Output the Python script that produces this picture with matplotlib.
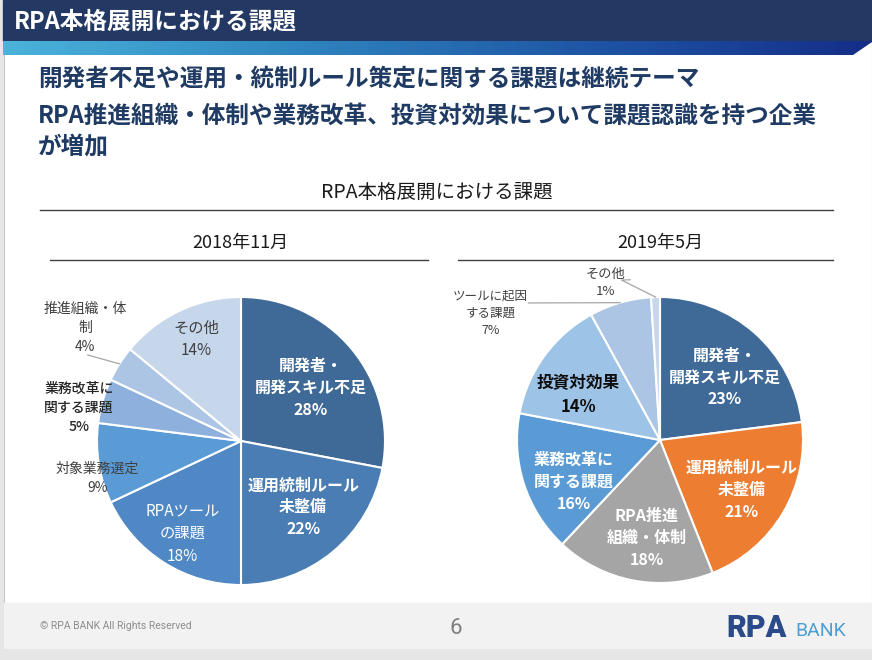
import numpy as np
import matplotlib
matplotlib.use("Agg")
import matplotlib.pyplot as plt
from matplotlib.colors import LinearSegmentedColormap
from matplotlib.patches import Rectangle, Polygon

plt.rcParams['font.family'] = ['Noto Sans CJK JP', 'DejaVu Sans']

W, H = 872, 660

# data
header_title = "RPA本格展開における課題"
messages = ["開発者不足や運用・統制ルール策定に関する課題は継続テーマ",
            "RPA推進組織・体制や業務改革、投資対効果について課題認識を持つ企業",
            "が増加"]
chart_title = "RPA本格展開における課題"
periods = ["2018年11月", "2019年5月"]

names_2018 = ["開発者・\n開発スキル不足", "運用統制ルール\n未整備", "RPAツール\nの課題",
              "対象業務選定", "業務改革に\n関する課題", "推進組織・体\n制", "その他"]
values_2018 = [28, 22, 18, 9, 5, 4, 14]
colors_2018 = ["#3F6A98", "#4A7DB3", "#4F88C5", "#5B9BD5", "#8DB0DC", "#ADC5E5", "#C6D6EB"]

names_2019 = ["開発者・\n開発スキル不足", "運用統制ルール\n未整備", "RPA推進\n組織・体制",
              "業務改革に\n関する課題", "投資対効果", "ツールに起因\nする課題", "その他"]
values_2019 = [23, 21, 18, 16, 14, 7, 1]
colors_2019 = ["#3F6A98", "#ED7D31", "#A5A5A5", "#5B9BD5", "#9DC3E6", "#ADC5E5", "#C6D6EB"]

# label styles: radius, angle shift, colour, size, weight, leader (polar points)
WB = dict(color="white", size=11.5, weight="bold")
styles_2018 = [
    dict(r=0.61, da=-2.5, **WB),
    dict(r=0.63, da=3.6, **WB),
    dict(r=0.76, da=0, color="white", size=11, weight="normal"),
    dict(r=1.03, da=5.5, color="#404040", size=10, weight="normal"),
    dict(r=1.15, da=4.7, color="#262626", size=10, weight="medium"),
    dict(r=1.34, da=-3.6, color="#404040", size=10, weight="normal",
         leader=[(1.22, 150.7)]),
    dict(r=0.77, da=-1.4, color="#404040", size=11, weight="normal"),
]
styles_2019 = [
    dict(r=0.63, da=-4.6, **WB),
    dict(r=0.67, da=-0.8, **WB),
    dict(r=0.69, da=3.2, **WB),
    dict(r=0.67, da=8, **WB),
    dict(r=0.65, da=7.2, color="#0D0D0D", size=12, weight="bold"),
    dict(r=1.48, da=37, color="#404040", size=9, weight="normal",
         leader=[(1.328, 133.8)]),
    dict(r=1.16, da=17.2, color="#404040", size=9.5, weight="normal",
         leader=[(1.15, 103.5), (1.14, 100.6)]),
]

fig = plt.figure(figsize=(W / 100, H / 100), dpi=100)
bg = fig.add_axes([0, 0, 1, 1])
bg.set_xlim(0, W)
bg.set_ylim(H, 0)
bg.axis("off")

# slide frame
bg.add_patch(Rectangle((0, 0), W, H, color="#E6E6E6", zorder=0))
bg.add_patch(Rectangle((4, 0), W - 4, 648, facecolor="white", edgecolor="#C8C8C8", lw=0.8, zorder=0.5))
bg.add_patch(Rectangle((4, 603), W - 4, 45, color="#F2F2F2", zorder=0.6))

# header bar + gradient stripe
bg.add_patch(Rectangle((3, 0), W - 3, 41, color="#233862", zorder=1))
cmap = LinearSegmentedColormap.from_list("hdr", ["#4BB3DA", "#2F86C0", "#1F56A5", "#142E88"])
grad = np.linspace(0, 1, 256).reshape(1, -1)
im = bg.imshow(grad, cmap=cmap, extent=(3, W, 55, 41), aspect="auto", zorder=1.1)
clip = Polygon([(3, 41), (W, 41), (W, 42), (853, 55), (3, 55)], closed=True, transform=bg.transData)
im.set_clip_path(clip)
bg.set_xlim(0, W)
bg.set_ylim(H, 0)

bg.text(14, 21, header_title, color="white", fontsize=17, fontweight="bold", va="center", zorder=2)

for y, line in zip([78, 116, 146], messages):
    bg.text(38, y, line, color="#1F3A63", fontsize=17, fontweight="bold", va="center", zorder=2)

bg.text(437, 192, chart_title, color="#1A1A1A", fontsize=14, ha="center", va="center")
bg.plot([40, 833], [210, 210], color="#404040", lw=1)
bg.text(240, 243, periods[0], color="#1A1A1A", fontsize=13, ha="center", va="center")
bg.text(660, 243, periods[1], color="#1A1A1A", fontsize=13, ha="center", va="center")
bg.plot([50, 428], [260, 260], color="#404040", lw=1)
bg.plot([458, 833], [260, 260], color="#404040", lw=1)

# footer
bg.text(40, 626, "© RPA BANK All Rights Reserved", color="#8C8C8C", fontsize=7.5,
        family="Roboto", va="center")
bg.text(456, 628, "6", color="#7F7F7F", fontsize=16, family="Roboto", ha="center", va="center")
bg.text(726, 628, "RPA", color="#2B4A8A", fontsize=22, family="Roboto", fontweight="black",
        va="center")
bg.text(795, 631, "BANK", color="#4E9ED2", fontsize=14, family="Roboto", va="center")


def draw_pie(cx, cy, r, values, names, colors, styles):
    ax = fig.add_axes([(cx - r) / W, (H - cy - r) / H, 2 * r / W, 2 * r / H])
    wedges, _ = ax.pie(values, colors=colors, startangle=90, counterclock=False, radius=1,
                       wedgeprops=dict(edgecolor="white", linewidth=1.5))
    ax.set_xlim(-1, 1)
    ax.set_ylim(-1, 1)
    ax.set_aspect("equal")
    ax.axis("off")
    for w, name, v, st in zip(wedges, names, values, styles):
        mid = (w.theta1 + w.theta2) / 2
        a = np.deg2rad(mid + st["da"])
        ax.text(st["r"] * np.cos(a), st["r"] * np.sin(a), f"{name}\n{v}%",
                ha="center", va="center", color=st["color"], fontsize=st["size"],
                fontweight=st["weight"], linespacing=1.45, clip_on=False)
        if "leader" in st:
            pts = [(1.0, mid)] + st["leader"]
            xs = [p[0] * np.cos(np.deg2rad(p[1])) for p in pts]
            ys = [p[0] * np.sin(np.deg2rad(p[1])) for p in pts]
            ax.plot(xs, ys, color="#A6A6A6", lw=0.9, clip_on=False)
    return ax


draw_pie(241, 441, 144, values_2018, names_2018, colors_2018, styles_2018)
draw_pie(660, 440, 143, values_2019, names_2019, colors_2019, styles_2019)

fig.savefig("out.png", dpi=100)
